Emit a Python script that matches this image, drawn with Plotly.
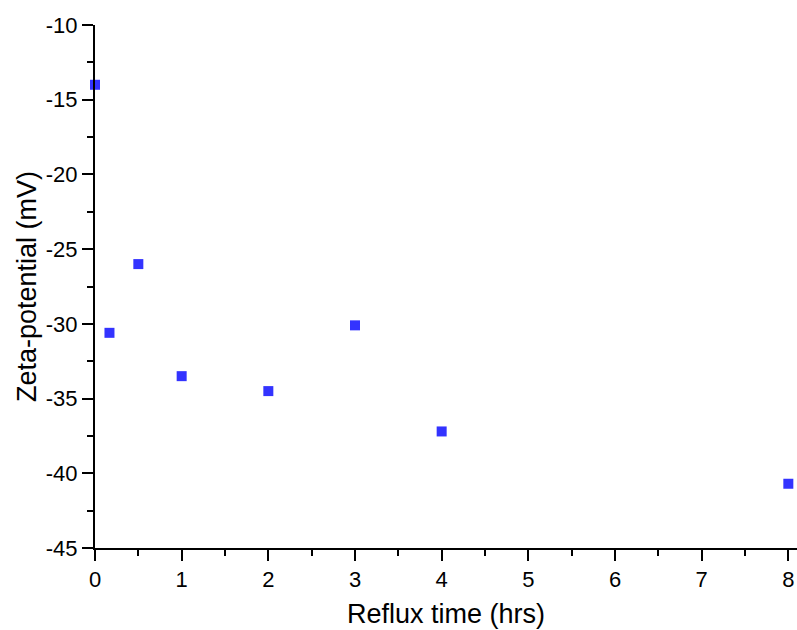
import plotly.graph_objects as go

reflux_hrs = [0, 0.167, 0.5, 1, 2, 3, 4, 8]
zeta_mv = [-14.0, -30.6, -26.0, -33.5, -34.5, -30.1, -37.2, -40.7]
x_ticks = [0, 1, 2, 3, 4, 5, 6, 7, 8]
y_ticks = [-45, -40, -35, -30, -25, -20, -15, -10]

fig = go.Figure()
fig.add_trace(go.Scatter(
    x=reflux_hrs, y=zeta_mv, mode="markers",
    marker=dict(symbol="square", size=10, color="#3333ff", line=dict(width=0)),
    cliponaxis=False, showlegend=False,
))

axis_common = dict(
    showgrid=False, zeroline=False, showline=True, linecolor="black", linewidth=2,
    ticks="outside", ticklen=11, tickwidth=2, tickcolor="black",
    tickfont=dict(family="Liberation Sans, Arial", size=22, color="black"),
)

fig.update_layout(
    width=797, height=630,
    margin=dict(l=95, r=0, t=25, b=82),
    plot_bgcolor="white", paper_bgcolor="white",
    font=dict(family="Liberation Sans, Arial", color="black"),
    xaxis=dict(range=[0, 8.1], tickvals=x_ticks, ticktext=[str(v) for v in x_ticks],
               title=dict(text="Reflux time (hrs)", font=dict(size=27), standoff=13),
               **axis_common),
    yaxis=dict(range=[-45, -10], tickvals=y_ticks, ticktext=[str(v) for v in y_ticks],
               title=dict(text="Zeta-potential (mV)", font=dict(size=27), standoff=1),
               **axis_common),
)
fig.update_xaxes(minor=dict(dtick=0.5, tick0=0, ticks="outside", ticklen=6, tickwidth=2, tickcolor="black"))
fig.update_yaxes(minor=dict(dtick=2.5, tick0=-45, ticks="outside", ticklen=6, tickwidth=2, tickcolor="black"))

fig.write_html("out.html")
